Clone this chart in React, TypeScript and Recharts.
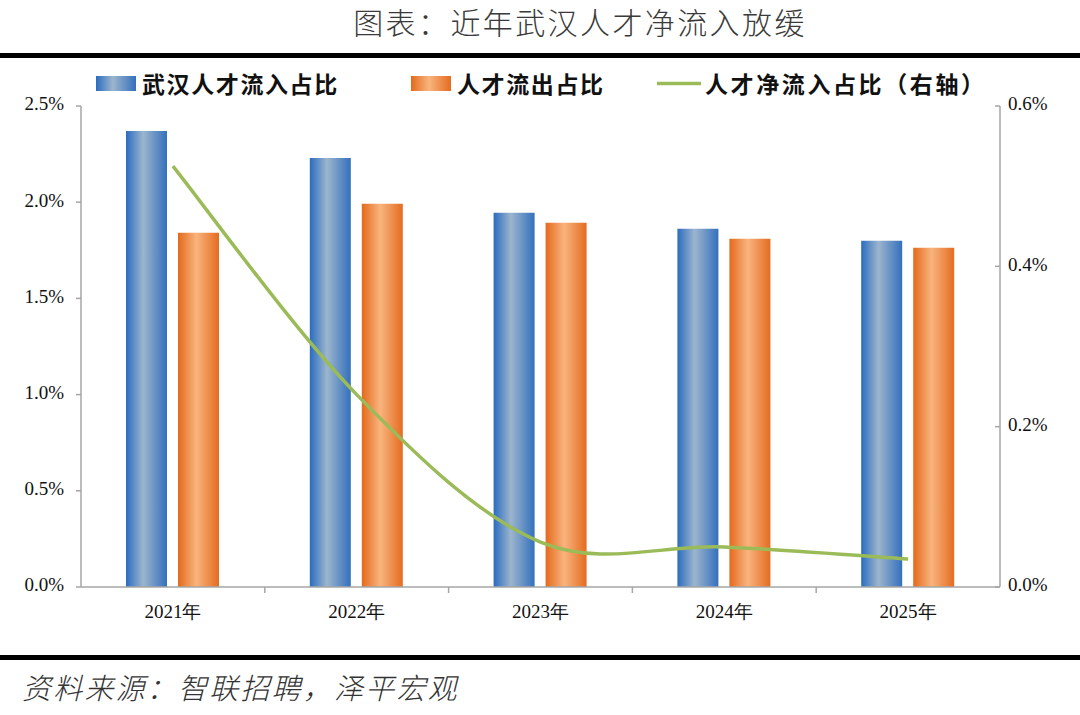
import React from 'react';
import { ComposedChart, Bar, Line, XAxis, YAxis } from 'recharts';

const years = ['2021年', '2022年', '2023年', '2024年', '2025年'];
const inflowShare = [2.37, 2.23, 1.945, 1.862, 1.8];
const outflowShare = [1.841, 1.992, 1.893, 1.81, 1.763];
const netInflowShare = [0.525, 0.24, 0.056, 0.05, 0.035];

const leftTicks = [0, 0.5, 1.0, 1.5, 2.0, 2.5];
const rightTicks = [0, 0.2, 0.4, 0.6];

const data = years.map((year, i) => ({
  year,
  inflow: inflowShare[i],
  outflow: outflowShare[i],
  net: netInflowShare[i],
}));

const W = 1080;
const H = 715;
const PLOT_LEFT = 81;
const PLOT_RIGHT = 1000;
const HALF_BAND = (PLOT_RIGHT - PLOT_LEFT) / years.length / 2;
const AXIS_GRAY = '#a6a6a6';
const SERIF = '"Liberation Serif", "Times New Roman", serif';
const CJK = '"Noto Sans CJK SC", sans-serif';

// smoothed line like the office "smooth line" option
const smoothCurve = (ctx: any) => {
  let pts: number[][] = [];
  return {
    areaStart() {},
    areaEnd() {},
    lineStart() {
      pts = [];
    },
    point(x: number, y: number) {
      pts.push([+x, +y]);
    },
    lineEnd() {
      if (!pts.length) return;
      ctx.moveTo(pts[0][0], pts[0][1]);
      for (let i = 0; i < pts.length - 1; i++) {
        const p0 = pts[i - 1] || pts[i];
        const p1 = pts[i];
        const p2 = pts[i + 1];
        const p3 = pts[i + 2] || p2;
        ctx.bezierCurveTo(
          p1[0] + (p2[0] - p0[0]) / 6,
          p1[1] + (p2[1] - p0[1]) / 6,
          p2[0] - (p3[0] - p1[0]) / 6,
          p2[1] - (p3[1] - p1[1]) / 6,
          p2[0],
          p2[1]
        );
      }
    },
  };
};

const pct = (v: number) => `${v.toFixed(1)}%`;

const XTick = (props: any) => {
  const { x, y, payload, index } = props;
  return (
    <g>
      {index > 0 && (
        <line x1={x - HALF_BAND} x2={x - HALF_BAND} y1={y} y2={y + 6} stroke={AXIS_GRAY} strokeWidth={1.5} />
      )}
      <text x={x} y={y + 27} textAnchor="middle" dominantBaseline="middle" fontFamily={SERIF} fontSize={19} fill="#111">
        {payload.value}
      </text>
    </g>
  );
};

const LeftTick = (props: any) => {
  const { x, y, payload } = props;
  return (
    <g>
      <line x1={x - 5} x2={x} y1={y} y2={y} stroke={AXIS_GRAY} strokeWidth={1.5} />
      <text x={x - 17} y={y} textAnchor="end" dominantBaseline="middle" fontFamily={SERIF} fontSize={19} fill="#111">
        {pct(payload.value)}
      </text>
    </g>
  );
};

const RightTick = (props: any) => {
  const { x, y, payload } = props;
  return (
    <g>
      <line x1={x - 5} x2={x} y1={y} y2={y} stroke={AXIS_GRAY} strokeWidth={1.5} />
      <text x={x + 8} y={y} textAnchor="start" dominantBaseline="middle" fontFamily={SERIF} fontSize={19} fill="#111">
        {pct(payload.value)}
      </text>
    </g>
  );
};

const legendText: React.CSSProperties = {
  fontFamily: CJK,
  fontWeight: 700,
  fontSize: 23,
  letterSpacing: 1.6,
  color: '#111',
  marginLeft: 6,
};

const App: React.FC = () => {
  return (
    <div style={{ position: 'absolute', left: 0, top: 0, width: W, height: H, background: '#fff', overflow: 'hidden' }}>
      <ComposedChart
        width={W}
        height={H}
        data={data}
        margin={{ top: 106, right: 20, bottom: 98, left: 21 }}
        barSize={41}
        barGap={11}
      >
        <defs>
          <linearGradient id="blueGrad" x1="0" y1="0" x2="1" y2="0">
            <stop offset="0%" stopColor="#2a6cc0" />
            <stop offset="42%" stopColor="#9cb5cd" />
            <stop offset="100%" stopColor="#3470bd" />
          </linearGradient>
          <linearGradient id="orangeGrad" x1="0" y1="0" x2="1" y2="0">
            <stop offset="0%" stopColor="#e36a1c" />
            <stop offset="45%" stopColor="#f9b47e" />
            <stop offset="100%" stopColor="#e46c20" />
          </linearGradient>
        </defs>
        <XAxis
          dataKey="year"
          height={30}
          tickLine={false}
          tickSize={0}
          tickMargin={0}
          tick={<XTick />}
          axisLine={{ stroke: AXIS_GRAY, strokeWidth: 1.5 }}
          interval={0}
        />
        <YAxis
          yAxisId="left"
          width={60}
          domain={[0, 2.5]}
          ticks={leftTicks}
          tickLine={false}
          tickSize={0}
          tickMargin={0}
          tick={<LeftTick />}
          axisLine={{ stroke: AXIS_GRAY, strokeWidth: 1.5 }}
          interval={0}
        />
        <YAxis
          yAxisId="right"
          orientation="right"
          width={60}
          domain={[0, 0.6]}
          ticks={rightTicks}
          tickLine={false}
          tickSize={0}
          tickMargin={0}
          tick={<RightTick />}
          axisLine={{ stroke: AXIS_GRAY, strokeWidth: 1.5 }}
          interval={0}
        />
        <Bar yAxisId="left" dataKey="inflow" fill="url(#blueGrad)" isAnimationActive={false} />
        <Bar yAxisId="left" dataKey="outflow" fill="url(#orangeGrad)" isAnimationActive={false} />
        <Line
          yAxisId="right"
          dataKey="net"
          type={smoothCurve as any}
          stroke="#9bbb59"
          strokeWidth={3.5}
          dot={false}
          activeDot={false}
          isAnimationActive={false}
        />
      </ComposedChart>

      <div
        style={{
          position: 'absolute',
          left: 80,
          top: 0,
          width: W - 80,
          height: 42,
          textAlign: 'center',
          lineHeight: '42px',
          fontFamily: CJK,
          fontWeight: 300,
          fontSize: 30,
          letterSpacing: 2.4,
          color: '#3a3a3a',
        }}
      >
        图表：近年武汉人才净流入放缓
      </div>
      <div style={{ position: 'absolute', left: 0, top: 53, width: W, height: 5, background: '#000' }} />

      <div style={{ position: 'absolute', left: 96, top: 69, height: 28, display: 'flex', alignItems: 'center' }}>
        <svg width={40} height={15}>
          <rect width={40} height={15} fill="url(#blueGrad)" />
        </svg>
        <span style={legendText}>武汉人才流入占比</span>
      </div>
      <div style={{ position: 'absolute', left: 411, top: 69, height: 28, display: 'flex', alignItems: 'center' }}>
        <svg width={40} height={15}>
          <rect width={40} height={15} fill="url(#orangeGrad)" />
        </svg>
        <span style={legendText}>人才流出占比</span>
      </div>
      <div style={{ position: 'absolute', left: 657, top: 69, height: 28, display: 'flex', alignItems: 'center' }}>
        <svg width={44} height={15}>
          <line x1={0} x2={44} y1={7.5} y2={7.5} stroke="#9bbb59" strokeWidth={3.5} />
        </svg>
        <span style={{ ...legendText, marginLeft: 4, letterSpacing: 2.6 }}>人才净流入占比（右轴）</span>
      </div>

      <div style={{ position: 'absolute', left: 0, top: 655, width: W, height: 5, background: '#000' }} />
      <div
        style={{
          position: 'absolute',
          left: 22,
          top: 664,
          height: 44,
          lineHeight: '44px',
          fontFamily: CJK,
          fontStyle: 'italic',
          fontWeight: 300,
          fontSize: 29,
          letterSpacing: 2.2,
          color: '#333',
        }}
      >
        资料来源：智联招聘，泽平宏观
      </div>
    </div>
  );
};

export default App;
